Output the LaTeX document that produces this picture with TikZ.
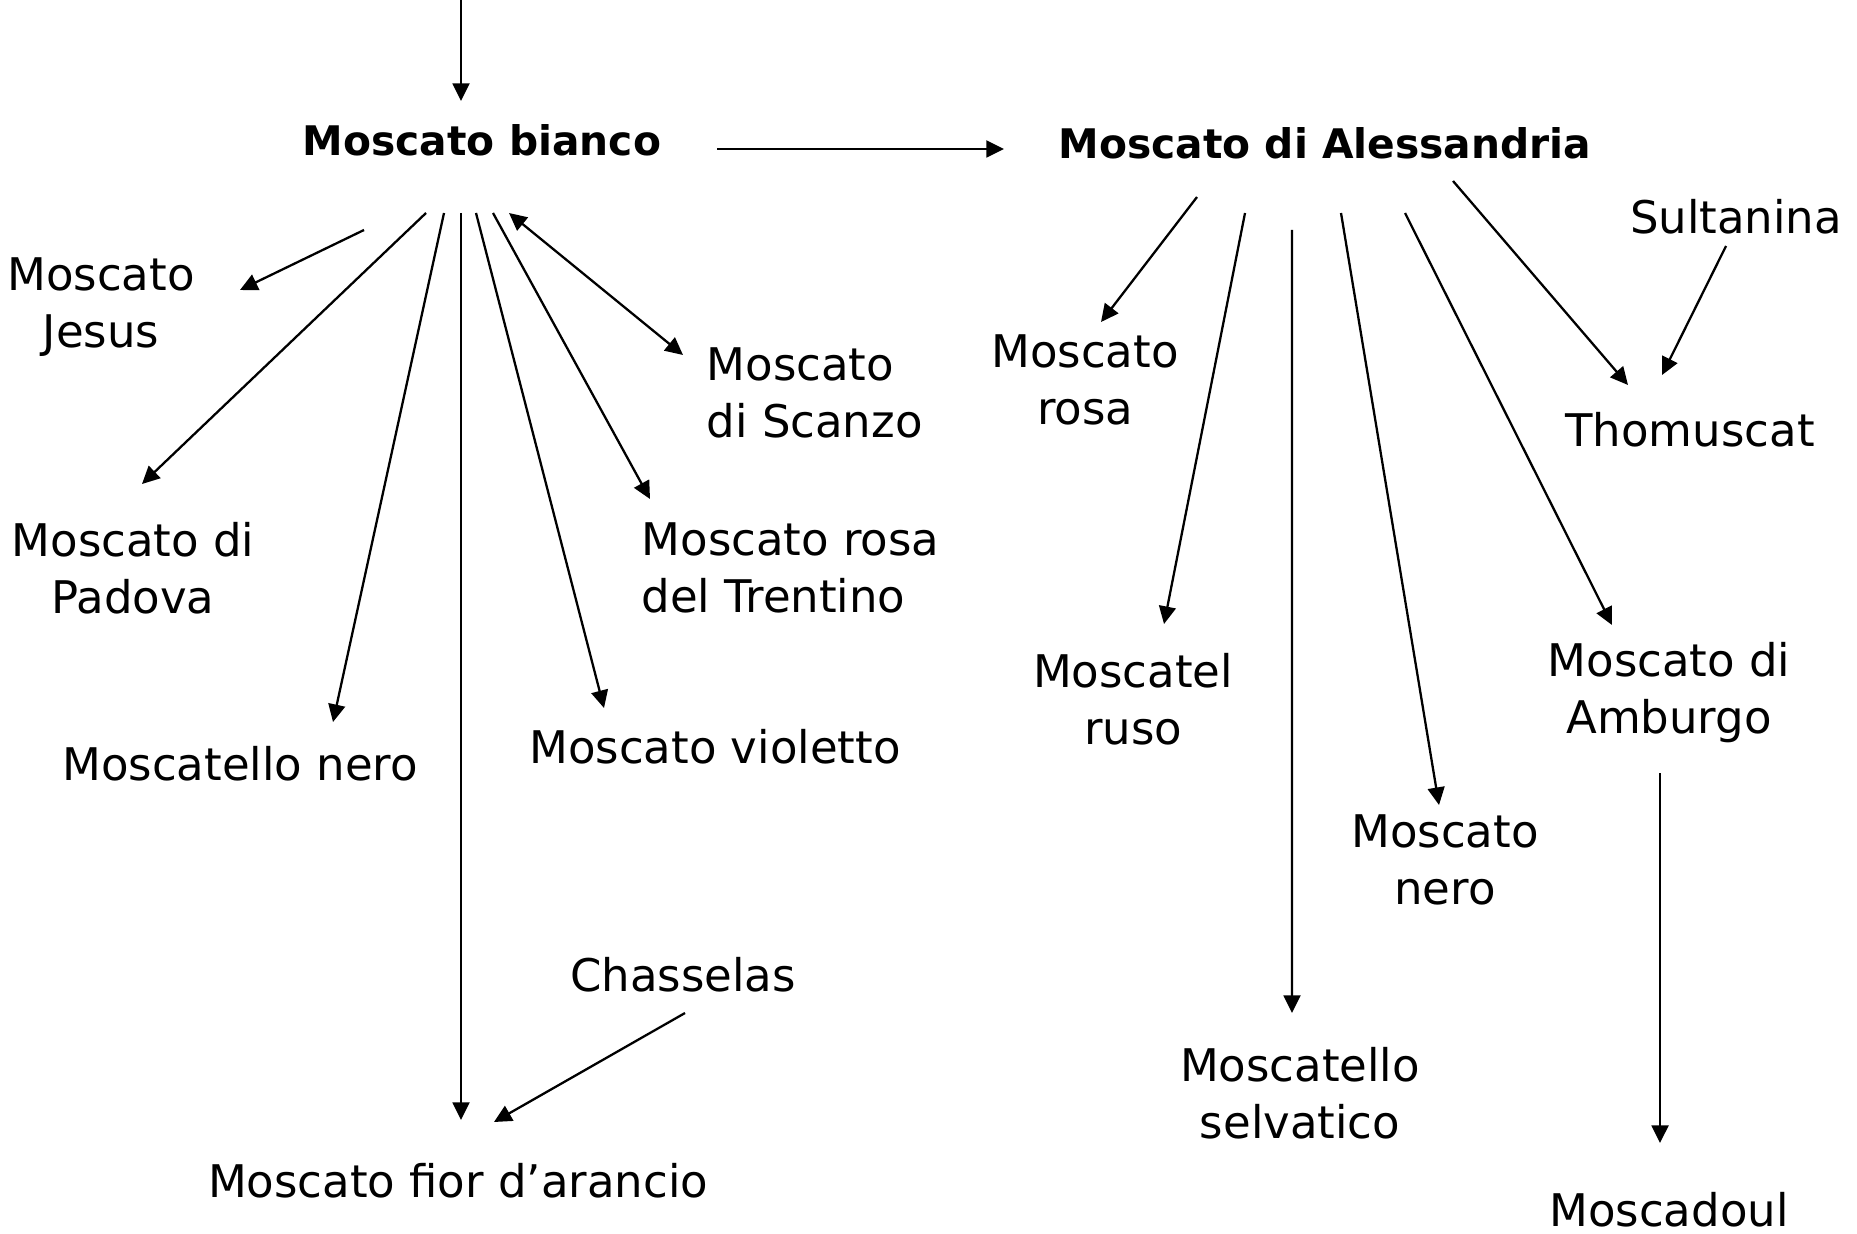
\documentclass[tikz,border=0pt]{standalone}
\usepackage{fontspec}
\setmainfont{DejaVu Sans}
\usetikzlibrary{arrows.meta}

\begin{document}
\begin{tikzpicture}[
    variety/.style={inner sep=0pt, align=center, font=\fontsize{12.8}{16.2}\selectfont},
    parent/.style={inner sep=0pt, font=\fontsize{11.6}{14}\selectfont\bfseries},
    >={Triangle[length=5pt, width=4.8pt]},
    arrow/.style={->, line width=0.65pt}
]
\useasboundingbox (0,0) rectangle (18.57,-12.33);

% Moscato bianco and its descendants
\coordinate (origin) at (4.61,0);
\node[parent] (bianco) at (4.82,-1.40) {Moscato bianco};
\node[variety] (jesus) at (1.01,-3.07) {Moscato\\Jesus};
\node[variety] (padova) at (1.33,-5.68) {Moscato di\\Padova};
\node[variety] (mnero) at (2.40,-7.64) {Moscatello nero};
\node[variety] (violetto) at (7.15,-7.47) {Moscato violetto};
\node[variety, anchor=west, align=left] (trentino) at (6.41,-5.68) {Moscato rosa\\del Trentino};
\node[variety, anchor=west, align=left] (scanzo) at (7.06,-3.93) {Moscato\\di Scanzo};
\node[variety] (fior) at (4.58,-11.81) {Moscato fior d’arancio};
\node[variety] (chasselas) at (6.83,-9.75) {Chasselas};

% Moscato di Alessandria and its descendants
\node[parent] (alessandria) at (13.25,-1.43) {Moscato di Alessandria};
\node[variety] (rosa) at (10.85,-3.80) {Moscato\\rosa};
\node[variety] (ruso) at (11.33,-6.99) {Moscatel\\ruso};
\node[variety] (selvatico) at (13.00,-10.93) {Moscatello\\selvatico};
\node[variety] (nero) at (14.45,-8.60) {Moscato\\nero};
\node[variety] (amburgo) at (16.69,-6.93) {Moscato di\\Amburgo};
\node[variety] (thomuscat) at (16.90,-4.30) {Thomuscat};
\node[variety] (sultanina) at (17.36,-2.17) {Sultanina};
\node[variety] (moscadoul) at (16.69,-12.10) {Moscadoul};

\draw[arrow] (origin) -- ([shift={(-0.21,0.39)}]bianco.center);
\draw[arrow] ([shift={(2.35,-0.09)}]bianco.center) -- ([shift={(-3.21,-0.06)}]alessandria.center);
\draw[arrow] ([shift={(-1.18,-0.90)}]bianco.center) -- ([shift={(1.39,0.17)}]jesus.center);
\draw[arrow] ([shift={(-0.56,-0.73)}]bianco.center) -- ([shift={(0.09,0.84)}]padova.center);
\draw[arrow] ([shift={(-0.38,-0.73)}]bianco.center) -- ([shift={(0.93,0.42)}]mnero.center);
\draw[arrow] ([shift={(-0.21,-0.73)}]bianco.center) -- ([shift={(0.03,0.61)}]fior.center);
\draw[arrow] ([shift={(-0.06,-0.73)}]bianco.center) -- ([shift={(-1.11,0.39)}]violetto.center);
\draw[arrow] ([shift={(0.11,-0.73)}]bianco.center) -- ([shift={(0.09,0.69)}]trentino.west);
\draw[<->, line width=0.65pt] ([shift={(0.27,-0.73)}]bianco.center) -- ([shift={(-0.23,0.38)}]scanzo.west);
\draw[arrow] ([shift={(0.02,-0.38)}]chasselas.center) -- ([shift={(0.36,0.59)}]fior.center);

\draw[arrow] ([shift={(-1.28,-0.54)}]alessandria.center) -- ([shift={(0.16,0.58)}]rosa.center);
\draw[arrow] ([shift={(-0.80,-0.70)}]alessandria.center) -- ([shift={(0.31,0.75)}]ruso.center);
\draw[arrow] ([shift={(-0.33,-0.87)}]alessandria.center) -- ([shift={(-0.08,0.80)}]selvatico.center);
\draw[arrow] ([shift={(0.16,-0.70)}]alessandria.center) -- ([shift={(-0.06,0.55)}]nero.center);
\draw[arrow] ([shift={(0.80,-0.70)}]alessandria.center) -- ([shift={(-0.57,0.68)}]amburgo.center);
\draw[arrow] ([shift={(1.28,-0.38)}]alessandria.center) -- ([shift={(-0.62,0.45)}]thomuscat.center);
\draw[arrow] ([shift={(-0.10,-0.29)}]sultanina.center) -- ([shift={(-0.28,0.55)}]thomuscat.center);
\draw[arrow] ([shift={(-0.09,-0.80)}]amburgo.center) -- ([shift={(-0.09,0.67)}]moscadoul.center);
\end{tikzpicture}
\end{document}
